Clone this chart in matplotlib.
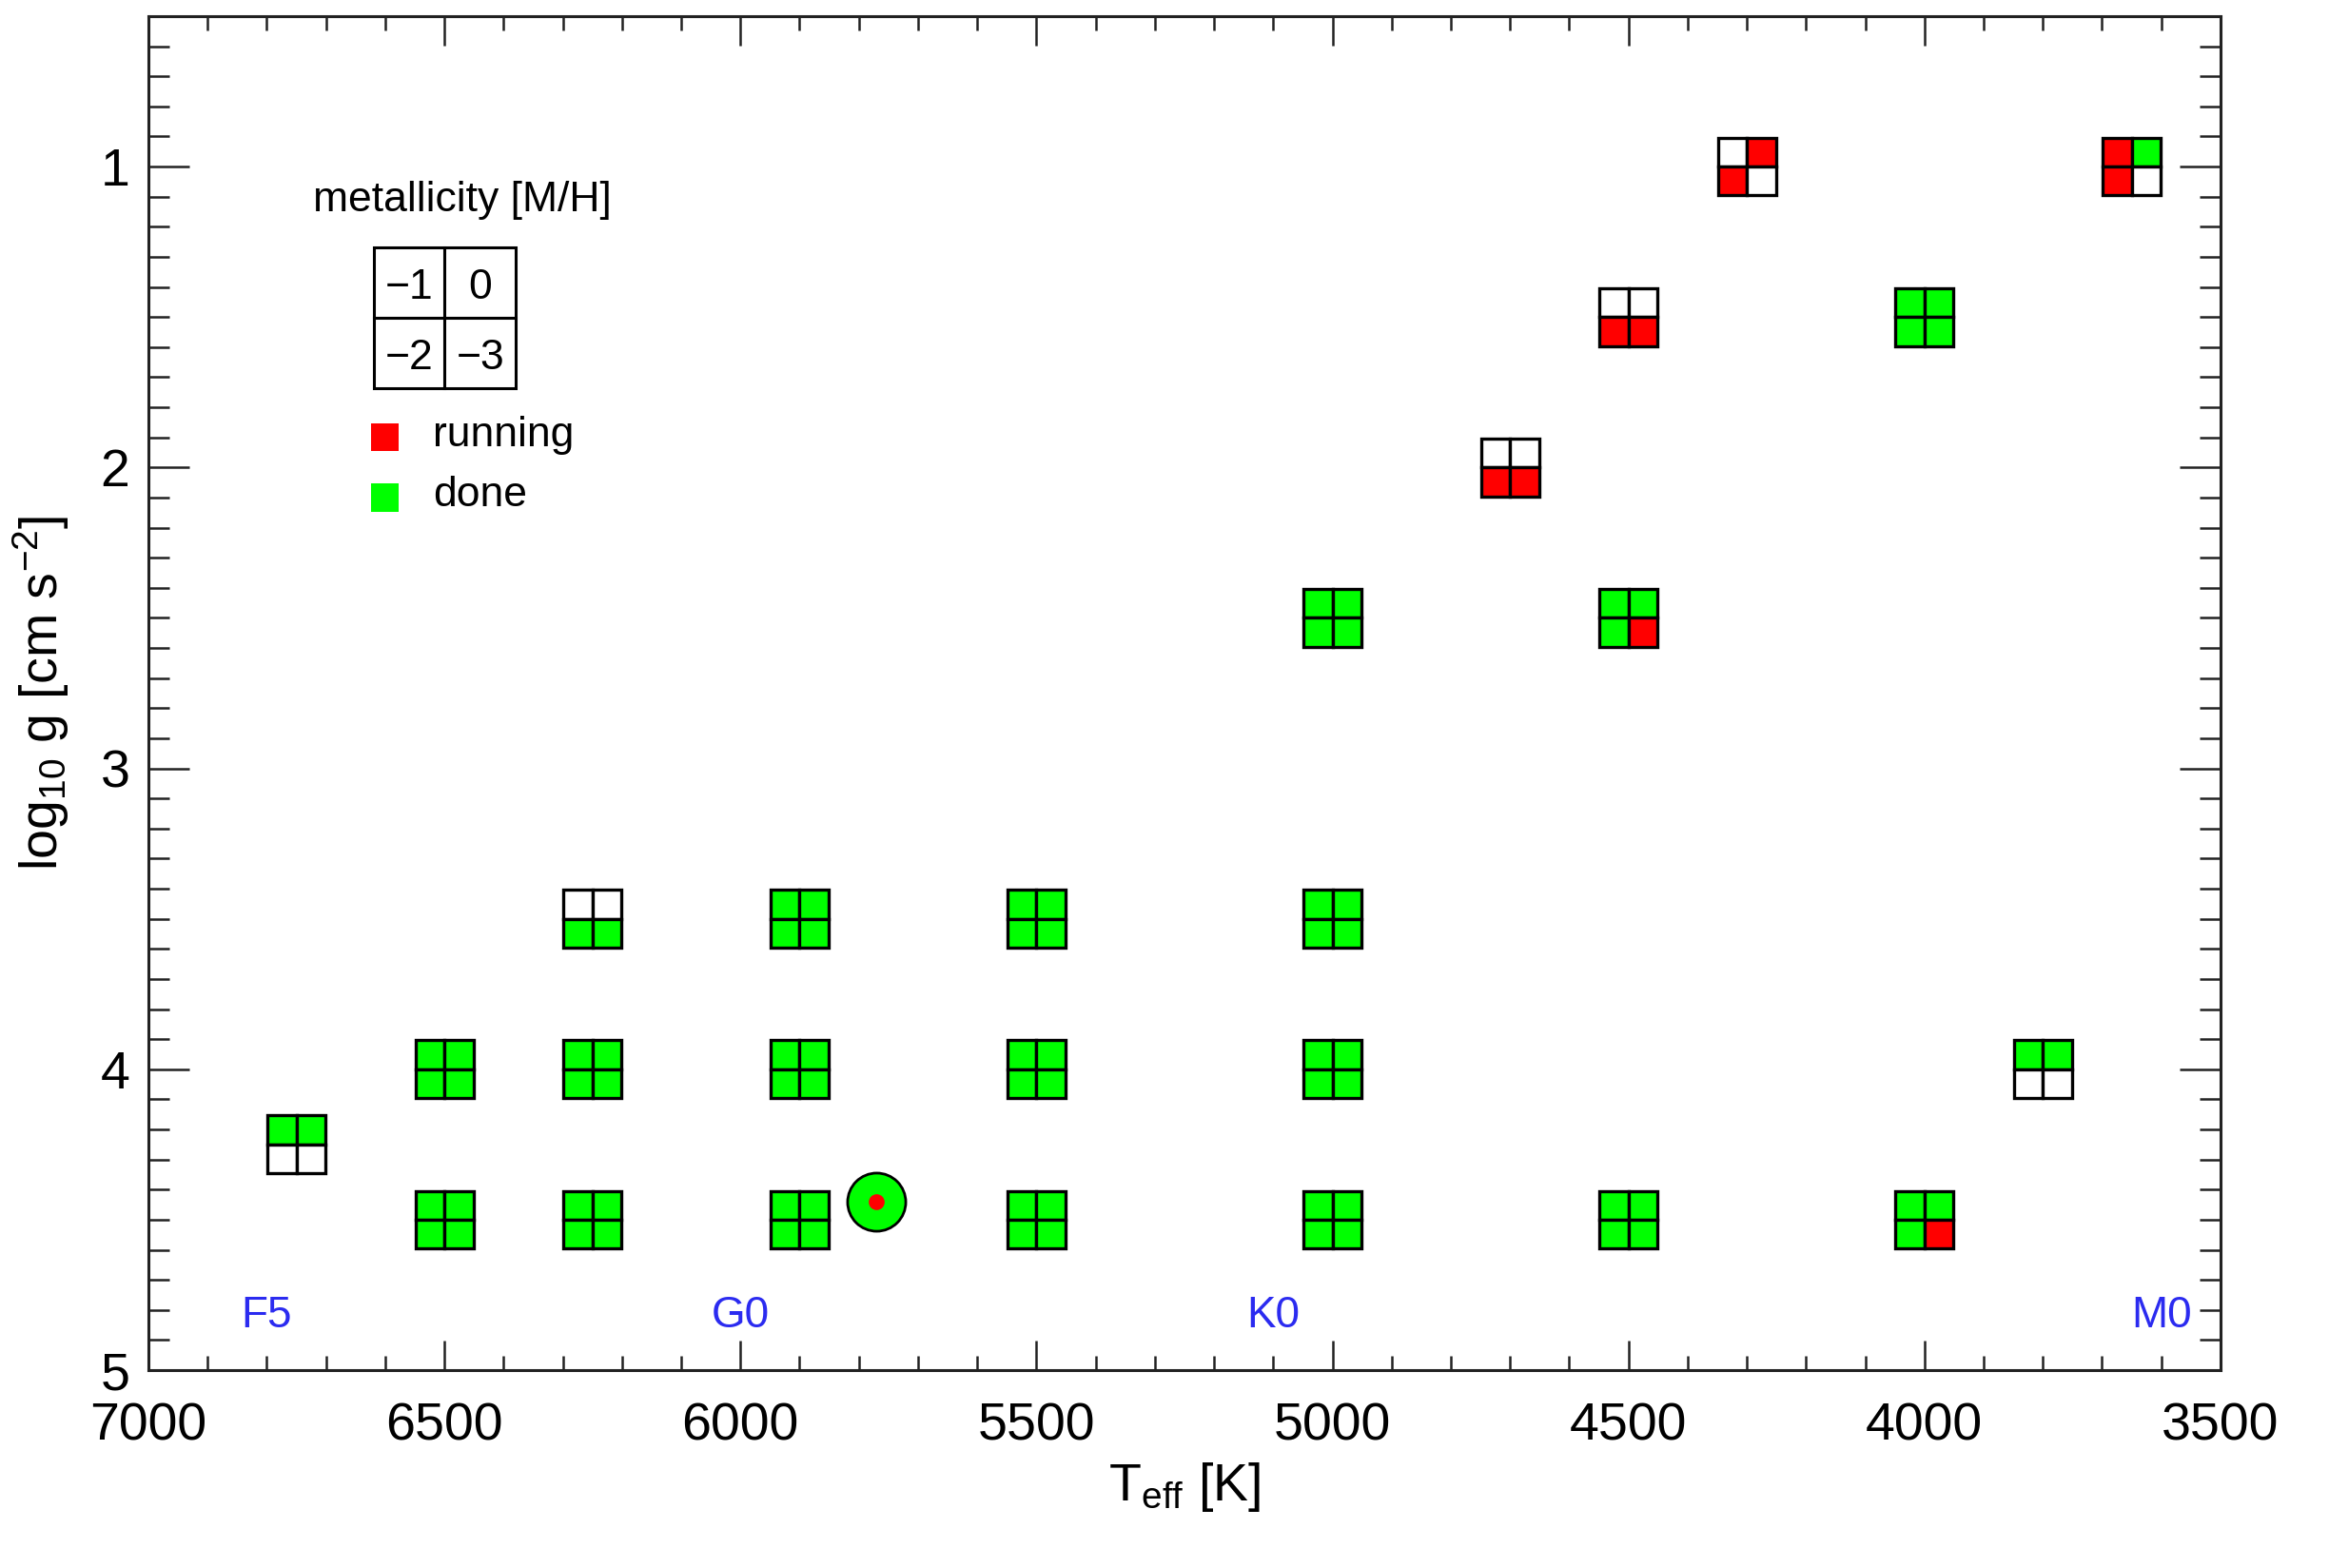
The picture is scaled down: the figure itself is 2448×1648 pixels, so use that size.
import matplotlib
matplotlib.use("Agg")
import matplotlib.pyplot as plt
from matplotlib.patches import Rectangle

plt.rcParams['font.family'] = ['Liberation Sans', 'DejaVu Sans']
plt.rcParams['mathtext.fontset'] = 'custom'
plt.rcParams['mathtext.rm'] = 'Liberation Sans'
plt.rcParams['mathtext.it'] = 'Liberation Sans:italic'
plt.rcParams['mathtext.default'] = 'regular'

# ---- data ----
teff = [4300, 3650, 4500, 4000, 4700, 5000, 4500,
        6250, 5900, 5500, 5000,
        6500, 6250, 5900, 5500, 5000, 3800,
        6750,
        6500, 6250, 5900, 5500, 5000, 4500, 4000]
logg = [1.0, 1.0, 1.5, 1.5, 2.0, 2.5, 2.5,
        3.5, 3.5, 3.5, 3.5,
        4.0, 4.0, 4.0, 4.0, 4.0, 4.0,
        4.25,
        4.5, 4.5, 4.5, 4.5, 4.5, 4.5, 4.5]
# status: 0 = not started, 1 = running, 2 = done
mh_m1 = [0, 1, 0, 2, 0, 2, 2, 0, 2, 2, 2, 2, 2, 2, 2, 2, 2, 2, 2, 2, 2, 2, 2, 2, 2]
mh_0  = [1, 2, 0, 2, 0, 2, 2, 0, 2, 2, 2, 2, 2, 2, 2, 2, 2, 2, 2, 2, 2, 2, 2, 2, 2]
mh_m2 = [1, 1, 1, 2, 1, 2, 2, 2, 2, 2, 2, 2, 2, 2, 2, 2, 0, 0, 2, 2, 2, 2, 2, 2, 2]
mh_m3 = [0, 0, 1, 2, 1, 2, 1, 2, 2, 2, 2, 2, 2, 2, 2, 2, 0, 0, 2, 2, 2, 2, 2, 2, 1]

sun_teff, sun_logg = 5770, 4.44

spec_labels = ['F5', 'G0', 'K0', 'M0']
spec_teff = [6800, 6000, 5100, 3600]
spec_logg = 4.82

status_colors = {0: 'white', 1: '#ff0000', 2: '#00ff00'}

fig = plt.figure(figsize=(24.48, 16.48), dpi=100)
ax = fig.add_axes([0.0637, 0.1262, 0.8897, 0.8635])

ax.set_xlim(7000, 3500)
ax.set_ylim(5, 0.5)

dx = 49.0   # half cell widths in data units
dy = 0.096
for i in range(len(teff)):
    t, g = teff[i], logg[i]
    # quadrants: top-left (-1), top-right (0), bottom-left (-2), bottom-right (-3)
    quads = [(mh_m1[i], t + dx, g - dy),
             (mh_0[i], t, g - dy),
             (mh_m2[i], t + dx, g),
             (mh_m3[i], t, g)]
    for st, x0, y0 in quads:
        ax.add_patch(Rectangle((x0, y0), -dx, dy, facecolor=status_colors[st],
                               edgecolor='black', linewidth=2.4, zorder=3))

# Sun symbol
ax.plot([sun_teff], [sun_logg], 'o', markersize=44, markerfacecolor='#00ff00',
        markeredgecolor='black', markeredgewidth=2, zorder=4)
ax.plot([sun_teff], [sun_logg], 'o', markersize=12, markerfacecolor='#ff0000',
        markeredgecolor='none', zorder=5)

for lab, t in zip(spec_labels, spec_teff):
    ax.text(t, spec_logg, lab, color='#2b2bf0', fontsize=33, ha='center', va='center')

# Legend
ax.text(0.0795, 0.864, 'metallicity [M/H]', transform=ax.transAxes, fontsize=32,
        ha='left', va='center')
bx, by, bw, bh = 0.1088, 0.7252, 0.0684, 0.104
cell_labels = [('\u22121', 0, 1), ('0', 1, 1), ('\u22122', 0, 0), ('\u22123', 1, 0)]
for lab, cx, cy in cell_labels:
    ax.add_patch(Rectangle((bx + cx * bw / 2, by + cy * bh / 2), bw / 2, bh / 2,
                           transform=ax.transAxes, facecolor='white',
                           edgecolor='black', linewidth=2.2, zorder=3))
    ax.text(bx + cx * bw / 2 + bw / 4, by + cy * bh / 2 + bh / 4 - 0.004, lab,
            transform=ax.transAxes, fontsize=32, ha='center', va='center', zorder=4)

sq_w, sq_h = 0.0133, 0.0204
for yc, col, lab in [(0.6887, '#ff0000', 'running'), (0.6444, '#00ff00', 'done')]:
    ax.add_patch(Rectangle((0.1143 - sq_w / 2, yc - sq_h / 2), sq_w, sq_h,
                           transform=ax.transAxes, facecolor=col, edgecolor='none'))
    ax.text(0.1373, yc + 0.002, lab, transform=ax.transAxes, fontsize=32,
            ha='left', va='center')

# Axes styling
ax.set_xticks([7000, 6500, 6000, 5500, 5000, 4500, 4000, 3500])
ax.set_xticks(range(3500, 7001, 100), minor=True)
ax.set_yticks([1, 2, 3, 4, 5])
ax.set_yticks([x / 10 for x in range(5, 51)], minor=True)
ax.tick_params(axis='both', which='both', direction='in', top=True, right=True,
               width=1.8, color='#222222')
ax.tick_params(axis='x', which='major', length=22, labelsize=40, pad=24)
ax.tick_params(axis='x', which='minor', length=10.5)
ax.tick_params(axis='y', which='major', length=31, labelsize=40, pad=14)
ax.tick_params(axis='y', which='minor', length=16)
for s in ax.spines.values():
    s.set_linewidth(2.2)
    s.set_color('#222222')

ax.set_xlabel('T$_{\\mathrm{eff}}$ [K]', fontsize=40)
ax.xaxis.set_label_coords(0.5, -0.067)
ax.set_ylabel('log$_{10}$ g [cm s$^{-2}$]', fontsize=40)
ax.yaxis.set_label_coords(-0.037, 0.5)

fig.savefig('out.png', dpi=100, facecolor='white')
